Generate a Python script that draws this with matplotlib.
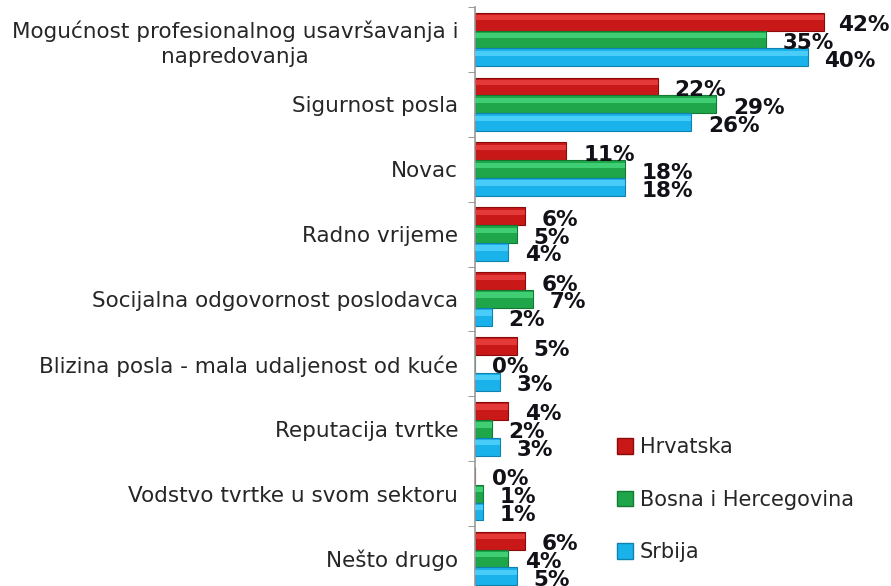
import matplotlib.pyplot as plt
import numpy as np
from matplotlib.patches import Patch

categories = ["Mogućnost profesionalnog usavršavanja i\nnapredovanja",
              "Sigurnost posla",
              "Novac",
              "Radno vrijeme",
              "Socijalna odgovornost poslodavca",
              "Blizina posla - mala udaljenost od kuće",
              "Reputacija tvrtke",
              "Vodstvo tvrtke u svom sektoru",
              "Nešto drugo"]
series = ["Hrvatska", "Bosna i Hercegovina", "Srbija"]
hrvatska = [42, 22, 11, 6, 6, 5, 4, 0, 6]
bih = [35, 29, 18, 5, 7, 0, 2, 1, 4]
srbija = [40, 26, 18, 4, 2, 3, 3, 1, 5]

values = [hrvatska, bih, srbija]
colors = ["#c81818", "#1fa64a", "#1ab2ea"]
edges = ["#8c0a0a", "#127a33", "#0f82b0"]
lights = ["#f04848", "#4fe088", "#5fd8ff"]

fig = plt.figure(figsize=(8.91, 5.86), dpi=100)
ax = fig.add_axes([0.533, -0.0085, 0.467, 0.9965])

n = len(categories)
y = np.arange(n)
h = 0.275
offs = [-h, 0, h]

labels = []
for k in range(3):
    yy = y + offs[k]
    vals = np.array(values[k])
    ax.barh(yy, vals, height=h, color=colors[k], edgecolor=edges[k],
            linewidth=0.8, zorder=2)
    # highlight strip for a little 3D look
    ax.barh(yy - h * 0.22, vals, height=h * 0.3, color=lights[k],
            linewidth=0, zorder=3, alpha=0.7)
    for yi, v in zip(yy, vals):
        t = ax.annotate(f"{v}%", (v, yi), xytext=(12, -2.5), textcoords="offset points",
                        ha="left", va="center", fontsize=15.5, fontweight="bold",
                        color="#111118", zorder=5, annotation_clip=False)
        labels.append(t)

ax.set_xlim(0, 50)
ax.set_ylim(n - 0.5, -0.5)
ax.set_xticks([])
ax.set_yticks(y)
ax.set_yticklabels(categories, fontsize=15.5, color="#262626",
                   multialignment="center", linespacing=1.3)
ax.tick_params(axis="y", which="major", length=0, pad=12)
ax.set_yticks(np.arange(n + 1) - 0.5, minor=True)
ax.tick_params(axis="y", which="minor", length=5, color="#888888", direction="out")
for s in ["top", "right", "bottom"]:
    ax.spines[s].set_visible(False)
ax.spines["left"].set_color("#999999")
ax.spines["left"].set_linewidth(1.2)

handles = [Patch(facecolor=colors[k], edgecolor=edges[k], label=series[k]) for k in range(3)]
fig.legend(handles=handles, loc="upper left", bbox_to_anchor=(0.671, 0.286),
           frameon=False, fontsize=15, handlelength=0.77, handleheight=0.75,
           handletextpad=0.34, labelspacing=1.56, labelcolor="#262626")

# nudge value labels that run past the right edge back inside
fig.canvas.draw()
r = fig.canvas.get_renderer()
W = fig.bbox.width
for t in labels:
    bb = t.get_window_extent(r)
    if bb.x1 > W - 2:
        dx = (bb.x1 - (W - 2)) * 72 / fig.dpi
        ox, oy = t.xyann
        t.xyann = (ox - dx, oy)

fig.savefig("out.png", dpi=100)
